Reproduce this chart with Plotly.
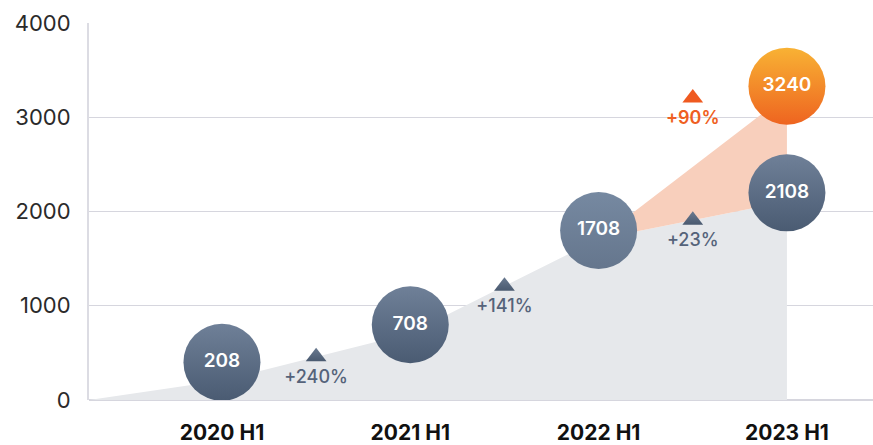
import plotly.graph_objects as go

# ---- data ----
categories = ["2020 H1", "2021 H1", "2022 H1", "2023 H1"]
base_values = [208, 708, 1708, 2108]          # grey series
target_value = 3240                           # orange value for 2023 H1
growth_labels = ["+240%", "+141%", "+23%"]    # grey growth between periods
target_growth_label = "+90%"
y_ticks = [0, 1000, 2000, 3000, 4000]

# ---- style ----
FONT = "Inter"
GREY_AREA = "#e6e8eb"
ORANGE_AREA = "#f8cfbc"
DARK_TOP, DARK_BOT = "#6f8098", "#4a5b72"
LIGHT_TOP, LIGHT_BOT = "#7689a1", "#65768d"
ORANGE_TOP, ORANGE_BOT = "#f8b234", "#ee6420"
LABEL_GREY = "#55637a"
LABEL_ORANGE = "#ef5f22"

X_MIN, X_MAX = -0.706, 3.457
CIRCLE_LIFT = 90          # data-unit lift of circles above their value
CIRCLE_MIN = 400          # keep lowest circle above the baseline
ORANGE_LABEL_LIFT = 730   # orange growth marker sits above its segment

xs = list(range(len(categories)))
fig = go.Figure()

# grey area
fig.add_trace(go.Scatter(
    x=[X_MIN] + xs, y=[0] + base_values, mode="lines", line=dict(width=0),
    fill="tozeroy", fillcolor=GREY_AREA, hoverinfo="skip", showlegend=False))

# orange wedge
fig.add_trace(go.Scatter(
    x=[xs[-2], xs[-1], xs[-1], xs[-2]],
    y=[base_values[-2], target_value, base_values[-1], base_values[-2]],
    mode="lines", line=dict(width=0), fill="toself", fillcolor=ORANGE_AREA,
    hoverinfo="skip", showlegend=False))

# growth triangles (grey)
mid_x = [i + 0.5 for i in range(len(base_values) - 1)]
mid_y = [(base_values[i] + base_values[i + 1]) / 2 for i in range(len(base_values) - 1)]
fig.add_trace(go.Scatter(
    x=mid_x, y=mid_y, mode="markers+text", text=growth_labels,
    textposition="bottom center",
    textfont=dict(family=FONT, size=18, color=LABEL_GREY, weight=500),
    marker=dict(symbol="triangle-up", size=18, color="#6a7a90",
                gradient=dict(type="vertical", color="#4a5a70"), line=dict(width=0)),
    hoverinfo="skip", showlegend=False))

# growth triangle (orange)
fig.add_trace(go.Scatter(
    x=[xs[-2] + 0.5], y=[(base_values[-2] + target_value) / 2 + ORANGE_LABEL_LIFT],
    mode="markers+text", text=[target_growth_label], textposition="bottom center",
    textfont=dict(family=FONT, size=18, color=LABEL_ORANGE, weight=600),
    marker=dict(symbol="triangle-up", size=18, color="#ef5a20", line=dict(width=0)),
    hoverinfo="skip", showlegend=False))

# circles
def circle(x, v, top, bot):
    fig.add_trace(go.Scatter(
        x=[x], y=[max(v + CIRCLE_LIFT, CIRCLE_MIN)], mode="markers+text",
        text=[str(v)], textposition="middle center",
        textfont=dict(family=FONT, size=19, color="white", weight=600),
        marker=dict(size=77, color=top, gradient=dict(type="vertical", color=bot),
                    line=dict(width=0)),
        hoverinfo="skip", showlegend=False))

for i, v in enumerate(base_values):
    if i == len(base_values) - 2:
        circle(xs[i], v, LIGHT_TOP, LIGHT_BOT)
    else:
        circle(xs[i], v, DARK_TOP, DARK_BOT)
circle(xs[-1], target_value, ORANGE_TOP, ORANGE_BOT)

fig.update_layout(
    width=873, height=445,
    margin=dict(l=89, r=0, t=23, b=45),
    paper_bgcolor="white", plot_bgcolor="white",
    font=dict(family=FONT),
    xaxis=dict(range=[X_MIN, X_MAX], tickmode="array", tickvals=xs,
               ticktext=[f"<b>{c}</b>" for c in categories],
               tickfont=dict(family=FONT, size=21, color="#111111"),
               showgrid=False, zeroline=False, showline=False, ticks="",
               ticklabelstandoff=18),
    yaxis=dict(range=[0, 4000], tickmode="array", tickvals=y_ticks,
               tickfont=dict(family=FONT, size=22, color="#2a2a2a"),
               showgrid=True, gridcolor="#d6d6de", gridwidth=1,
               zeroline=True, zerolinecolor="#d6d6de", zerolinewidth=2,
               showline=True, linecolor="#dcdce3", linewidth=2, ticks="",
               ticklabelstandoff=12),
)

fig.write_html("out.html", config={"displayModeBar": False},
               post_script="document.body.style.margin='0';document.body.style.padding='0';")
